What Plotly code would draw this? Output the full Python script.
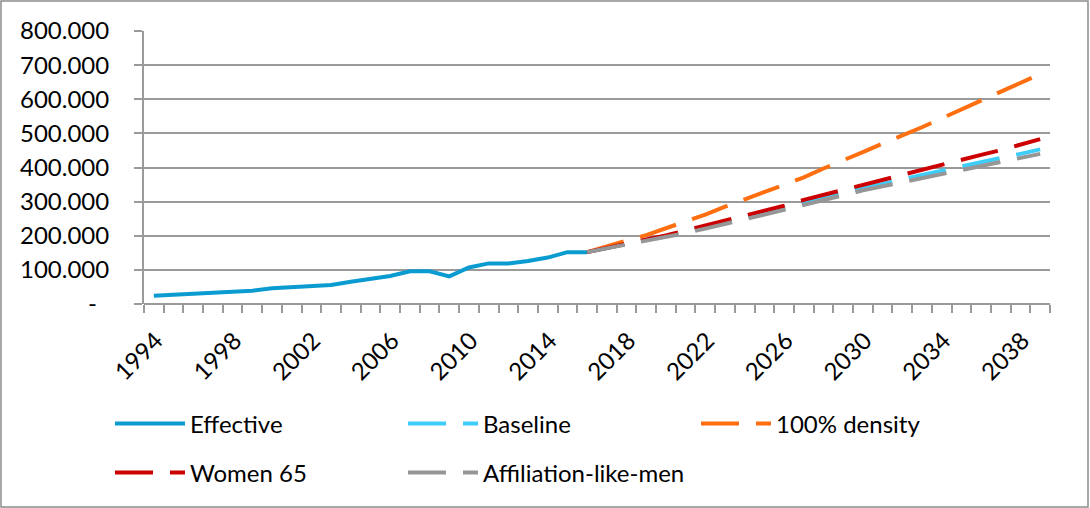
import plotly.graph_objects as go

# historical series (1994-2016)
eff_years = list(range(1994, 2017))
effective = [24500, 27000, 29000, 33000, 36000, 39000, 46000, 49000, 54000, 56000,
             65000, 73000, 82000, 96000, 96000, 81000, 107000, 119000, 119000, 126000,
             136000, 152000, 152000]

# projections (2016-2039)
proj_years = list(range(2016, 2040))
baseline = [152000, 165000, 176000, 188000, 199000, 212000, 226000, 239000, 254000, 267000,
            282000, 298000, 312000, 326000, 340000, 352000, 365000, 378000, 391000, 404000,
            416000, 428000, 440000, 453000]
density_100 = [152000, 170000, 186000, 202000, 221000, 242000, 262000, 285000, 306000, 327000,
               349000, 371000, 397000, 420000, 445000, 470000, 493000, 518000, 544000, 570000,
               596000, 622000, 648000, 674000]
women_65 = [152000, 165000, 177000, 189000, 201000, 215000, 229000, 243000, 258000, 272000,
            288000, 305000, 320000, 335000, 350000, 364000, 378000, 393000, 408000, 422000,
            437000, 451000, 467000, 483000]
affil_like_men = [152000, 163000, 173000, 184000, 196000, 208000, 221000, 234000, 248000, 262000,
                  276000, 291000, 305000, 319000, 333000, 345000, 357000, 369000, 381000, 394000,
                  405000, 416000, 428000, 440000]

x_labels = list(range(1994, 2040, 4))
y_ticks = [0, 100000, 200000, 300000, 400000, 500000, 600000, 700000, 800000]
y_text = ["-\u00a0\u00a0"] + [f"{v // 1000}.000" for v in y_ticks[1:]]

font_family = "Lato, 'Liberation Sans', sans-serif"
grid_color = "#9a9a9a"
dash = "38px,17px"

fig = go.Figure()

fig.add_trace(go.Scatter(x=eff_years, y=effective, mode="lines", name="Effective",
                         line=dict(color="#0a9bd0", width=4), legend="legend"))
fig.add_trace(go.Scatter(x=proj_years, y=baseline, mode="lines", name="Baseline",
                         line=dict(color="#3dcdf8", width=4, dash=dash), legend="legend"))
fig.add_trace(go.Scatter(x=proj_years, y=density_100, mode="lines", name="100% density",
                         line=dict(color="#ff6f0f", width=4, dash=dash), legend="legend"))
fig.add_trace(go.Scatter(x=proj_years, y=women_65, mode="lines", name="Women 65",
                         line=dict(color="#cc0000", width=4, dash=dash), legend="legend2"))
fig.add_trace(go.Scatter(x=proj_years, y=affil_like_men, mode="lines", name="Affiliation-like-men",
                         line=dict(color="#969696", width=4, dash=dash), legend="legend2"))

# plot area in px: x 144-1050, y 31-304
W, H = 906, 273
L, T = 144, 31

legend_common = dict(
    orientation="h",
    xanchor="left",
    yanchor="middle",
    x=(110 - L) / W,
    entrywidth=208,
    entrywidthmode="pixels",
    itemwidth=70,
    font=dict(size=24, color="#000000", family=font_family),
    bgcolor="rgba(0,0,0,0)",
)

fig.update_layout(
    width=1090,
    height=508,
    paper_bgcolor="#ffffff",
    plot_bgcolor="#ffffff",
    font=dict(family=font_family, size=24, color="#000000"),
    margin=dict(l=L, r=1090 - L - W, t=T, b=508 - T - H, pad=0),
    xaxis=dict(
        range=[1993.5, 2039.5],
        tickmode="array",
        tickvals=x_labels,
        ticks="",
        tickangle=-45,
        ticklabelstandoff=17,
        ticklabelshift=2,
        showgrid=False,
        showline=False,
        zeroline=False,
        minor=dict(ticks="outside", ticklen=8, tickwidth=2, tickcolor=grid_color,
                   tick0=1993.5, dtick=1, showgrid=False),
    ),
    yaxis=dict(
        range=[0, 800000],
        tickmode="array",
        tickvals=y_ticks,
        ticktext=y_text,
        ticks="outside",
        ticklen=8,
        tickwidth=2,
        tickcolor=grid_color,
        ticklabelstandoff=20,
        showgrid=True,
        gridcolor=grid_color,
        gridwidth=2,
        showline=True,
        linecolor=grid_color,
        linewidth=2,
        zeroline=True,
        zerolinecolor=grid_color,
        zerolinewidth=2,
    ),
    legend=dict(legend_common, y=-(424 - 304) / H),
    legend2=dict(legend_common, y=-(473 - 304) / H),
    shapes=[dict(
        type="rect", xref="paper", yref="paper",
        x0=(1 - L) / W, x1=(1088 - L) / W,
        y0=-(507 - T - H) / H, y1=(T + H - 1) / H,
        line=dict(color="#8c8c8c", width=1.5),
        layer="below",
    )],
)

fig.write_html("out.html", config={"displayModeBar": False},
               post_script="document.body.style.margin='0';")
